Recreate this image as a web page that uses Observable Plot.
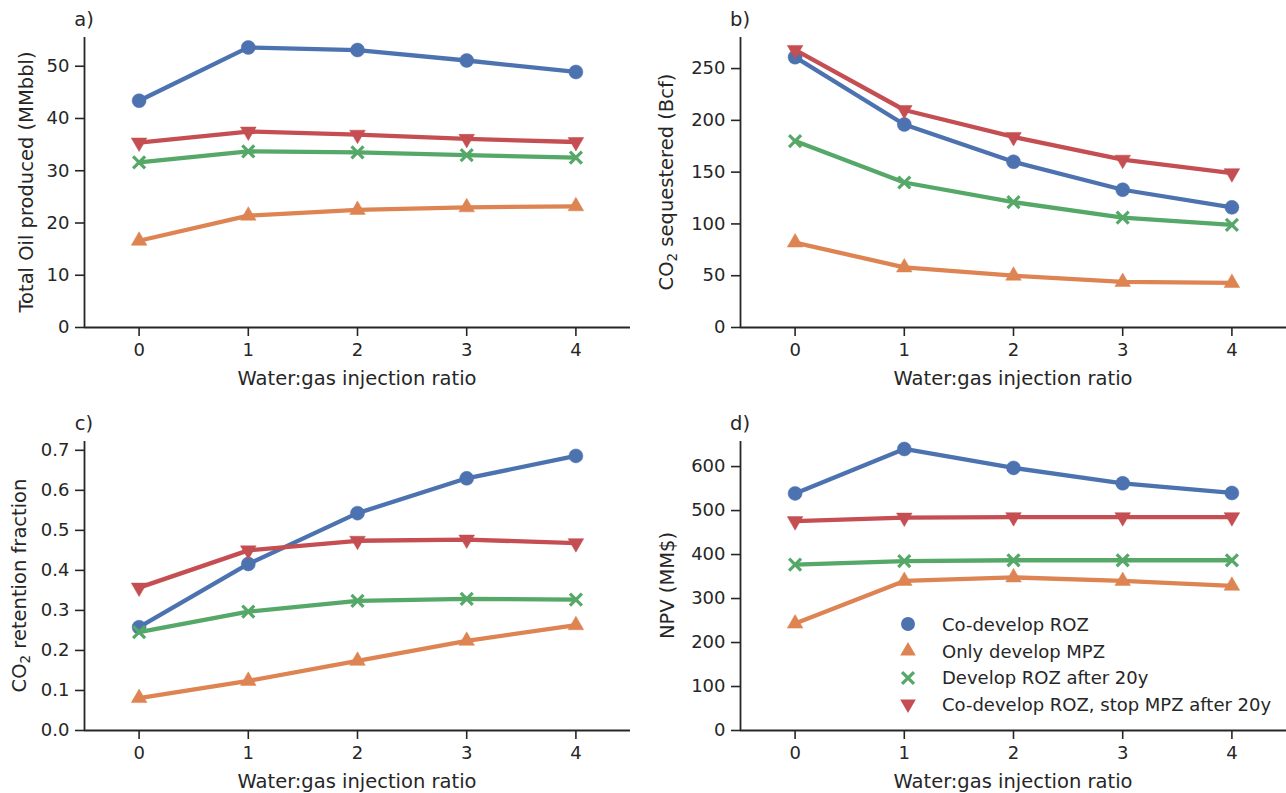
<!DOCTYPE html>
<html>
<head>
<meta charset="utf-8">
<script src="https://cdn.jsdelivr.net/npm/d3@7"></script>
<script src="https://cdn.jsdelivr.net/npm/@observablehq/plot@0.6"></script>
<style>
  body { margin: 0; background: #fff; font-family: "DejaVu Sans", sans-serif; }
  #fig { position: relative; width: 1286px; height: 793px; overflow: hidden; }
  .panel { position: absolute; }
  #legend { position: absolute; left: 896px; top: 611px; font-family: "DejaVu Sans", sans-serif; font-size: 18px; color: #262626; }
  #legend .row { display: flex; align-items: center; height: 26.7px; }
  #legend svg { width: 24px; height: 24px; margin-right: 22px; }
</style>
</head>
<body>
<div id="fig"><div id="legend"></div></div>
<script>
// ---------- data ----------
const ratios = [0, 1, 2, 3, 4];
const strategies = ["Co-develop ROZ", "Only develop MPZ", "Develop ROZ after 20y", "Co-develop ROZ, stop MPZ after 20y"];
const colors = ["#4c72b0", "#dd8452", "#55a868", "#c44e52"];

// a) Total oil produced (MMbbl), one list per strategy
const oilProduced = [
  [43.4, 53.6, 53.1, 51.1, 48.9],
  [16.6, 21.4, 22.5, 23.0, 23.2],
  [31.6, 33.7, 33.5, 33.0, 32.5],
  [35.4, 37.5, 36.9, 36.1, 35.5]
];
// b) CO2 sequestered (Bcf)
const co2Sequestered = [
  [261, 196, 160, 133, 116],
  [82, 58, 50, 44, 43],
  [180, 140, 121, 106, 99],
  [268, 210, 184, 162, 149]
];
// c) CO2 retention fraction
const co2Retention = [
  [0.258, 0.416, 0.543, 0.630, 0.686],
  [0.081, 0.124, 0.174, 0.224, 0.263],
  [0.246, 0.297, 0.324, 0.329, 0.327],
  [0.357, 0.450, 0.474, 0.477, 0.468]
];
// d) NPV (MM$)
const npv = [
  [539, 640, 597, 562, 540],
  [243, 340, 348, 340, 329],
  [377, 385, 387, 387, 387],
  [476, 484, 485, 485, 485]
];

const ticksA = [0, 10, 20, 30, 40, 50];
const ticksB = [0, 50, 100, 150, 200, 250];
const ticksC = [0, 0.1, 0.2, 0.3, 0.4, 0.5, 0.6, 0.7];
const ticksD = [0, 100, 200, 300, 400, 500, 600];

// ---------- symbols ----------
const sqrt3 = Math.sqrt(3);
const triangleDown = {
  draw(context, size) {
    const y = Math.sqrt(size / (sqrt3 * 3));
    context.moveTo(0, y * 2);
    context.lineTo(-sqrt3 * y, -y);
    context.lineTo(sqrt3 * y, -y);
    context.closePath();
  }
};
const symbols = [d3.symbolCircle, d3.symbolTriangle, d3.symbolTimes, triangleDown];
const symbolR = [7, 5.8, 5.5, 5.8];
const filled = [true, true, false, true];

const INK = "#262626";
const FONT = "DejaVu Sans";

function rowsFor(values) {
  const rows = [];
  values.forEach((vals, i) => vals.forEach((v, j) => rows.push({strategy: strategies[i], ratio: ratios[j], value: v})));
  return rows;
}

function makePanel(cfg) {
  const rows = rowsFor(cfg.values);
  const marks = [
    Plot.ruleX([-0.5], {stroke: INK, strokeWidth: 1.8}),
    Plot.ruleY([0], {stroke: INK, strokeWidth: 1.8}),
    Plot.axisX({ticks: ratios, tickSize: 9, tickPadding: 7, strokeWidth: 1.6, stroke: INK, fill: INK, fontSize: 18, tickFormat: d => String(d), label: null}),
    Plot.axisY({ticks: cfg.ticks, tickSize: 9, tickPadding: 6, strokeWidth: 1.6, stroke: INK, fill: INK, fontSize: 18, tickFormat: cfg.format, label: null})
  ];
  strategies.forEach((s, i) => {
    marks.push(Plot.line(rows, {filter: d => d.strategy === s, x: "ratio", y: "value", stroke: "strategy", strokeWidth: 4.3}));
    const dotOpts = {filter: d => d.strategy === s, x: "ratio", y: "value", symbol: symbols[i], r: symbolR[i]};
    if (filled[i]) { dotOpts.fill = "strategy"; dotOpts.stroke = "strategy"; dotOpts.strokeWidth = 0.5; }
    else { dotOpts.stroke = "strategy"; dotOpts.strokeWidth = 3.2; }
    marks.push(Plot.dot(rows, dotOpts));
  });
  const svg = Plot.plot({
    width: cfg.width, height: cfg.height,
    marginLeft: cfg.ml, marginRight: cfg.mr, marginTop: cfg.mt, marginBottom: cfg.mb,
    x: {domain: [-0.5, 4.5], label: null},
    y: {domain: [0, cfg.ymax], label: null},
    color: {domain: strategies, range: colors},
    style: {fontFamily: FONT, fontSize: "18px", color: INK, background: "white", overflow: "visible"},
    marks
  });
  const sel = d3.select(svg);
  const axBottom = cfg.height - cfg.mb;
  const axCenterX = (cfg.ml + cfg.width - cfg.mr) / 2;
  const axCenterY = (cfg.mt + axBottom) / 2;
  // panel letter
  sel.append("text").attr("x", cfg.ml).attr("y", cfg.mt - 11)
    .attr("font-family", FONT).attr("font-size", 19.5).attr("fill", INK).text(cfg.letter);
  // x label
  sel.append("text").attr("x", axCenterX).attr("y", axBottom + 58)
    .attr("text-anchor", "middle").attr("font-family", FONT).attr("font-size", 19.5).attr("fill", INK)
    .text("Water:gas injection ratio");
  // y label
  const yl = sel.append("text")
    .attr("transform", `translate(${cfg.ylx},${axCenterY}) rotate(-90)`)
    .attr("text-anchor", "middle").attr("font-family", FONT).attr("font-size", 19.5).attr("fill", INK);
  cfg.ylabel.forEach(part => {
    const t = yl.append("tspan").text(part.text);
    if (part.sub) t.attr("font-size", 13.5).attr("dy", "0.3em");
    if (part.after) t.attr("dy", "-0.2em");
  });
  const div = document.createElement("div");
  div.className = "panel";
  div.style.left = cfg.left + "px";
  div.style.top = cfg.top + "px";
  div.appendChild(svg);
  document.getElementById("fig").insertBefore(div, document.getElementById("legend"));
}

makePanel({letter: "a)", left: 0, top: 0, width: 640, height: 400, ml: 84, mr: 10, mt: 37, mb: 73,
  ymax: 55.5, ticks: ticksA, format: d3.format("d"), values: oilProduced, ylx: 33,
  ylabel: [{text: "Total Oil produced (MMbbl)"}]});
makePanel({letter: "b)", left: 640, top: 0, width: 646, height: 400, ml: 100, mr: 0, mt: 37, mb: 73,
  ymax: 280, ticks: ticksB, format: d3.format("d"), values: co2Sequestered, ylx: 33,
  ylabel: [{text: "CO"}, {text: "2", sub: true}, {text: " sequestered (Bcf)", after: true}]});
makePanel({letter: "c)", left: 0, top: 400, width: 640, height: 393, ml: 84, mr: 10, mt: 41, mb: 63,
  ymax: 0.722, ticks: ticksC, format: d3.format(".1f"), values: co2Retention, ylx: 26,
  ylabel: [{text: "CO"}, {text: "2", sub: true}, {text: " retention fraction", after: true}]});
makePanel({letter: "d)", left: 640, top: 400, width: 646, height: 393, ml: 100, mr: 0, mt: 41, mb: 63,
  ymax: 657, ticks: ticksD, format: d3.format("d"), values: npv, ylx: 34,
  ylabel: [{text: "NPV (MM$)"}]});

// ---------- legend ----------
const legend = d3.select("#legend");
strategies.forEach((s, i) => {
  const row = legend.append("div").attr("class", "row");
  const sv = row.append("svg").attr("viewBox", "-12 -12 24 24");
  const size = Math.PI * symbolR[i] * symbolR[i];
  const p = sv.append("path").attr("d", d3.symbol(symbols[i], size)());
  if (filled[i]) p.attr("fill", colors[i]);
  else p.attr("fill", "none").attr("stroke", colors[i]).attr("stroke-width", 3.2);
  row.append("span").text(s);
});
</script>
</body>
</html>
